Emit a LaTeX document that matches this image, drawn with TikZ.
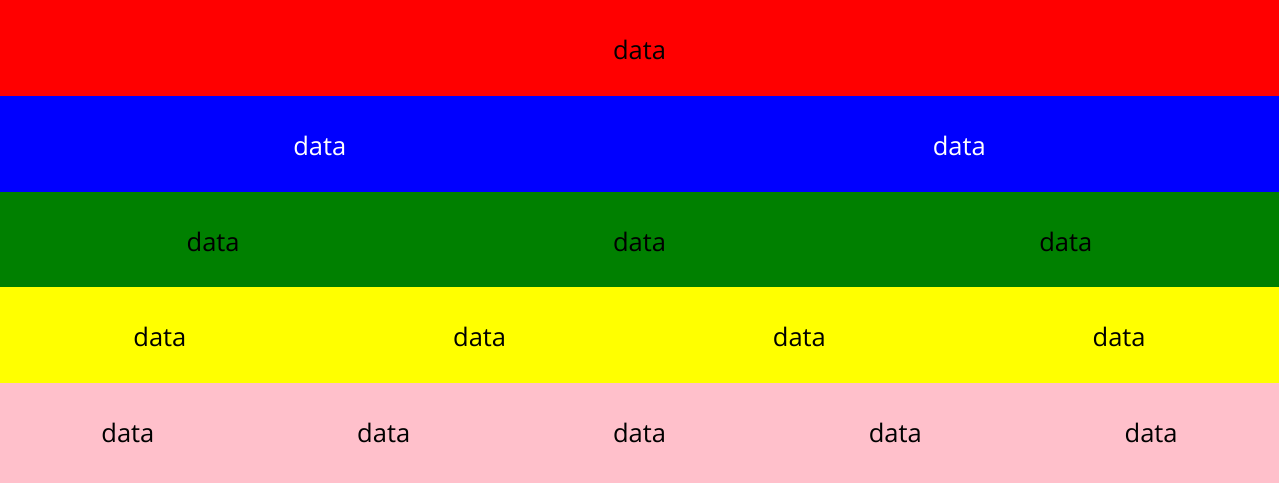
\documentclass[tikz,border=0pt]{standalone}
\usepackage{fontspec}
\setmainfont{Open Sans}
\definecolor{cssred}{HTML}{FF0000}
\definecolor{cssblue}{HTML}{0000FF}
\definecolor{cssgreen}{HTML}{008000}
\definecolor{cssyellow}{HTML}{FFFF00}
\definecolor{csspink}{HTML}{FFC0CB}
\begin{document}
\begin{tikzpicture}[x=1pt,y=1pt,
  band/.style={draw=none,inner sep=0pt,outer sep=0pt,minimum width=1279pt,anchor=north west},
  lbl/.style={inner sep=0pt,font=\fontsize{25.5}{30}\selectfont}]
\useasboundingbox (0,0) rectangle (1279,-483);
\foreach \i/\col/\tc/\n/\h in {0/cssred/black/1/96,1/cssblue/white/2/96,2/cssgreen/black/3/96,3/cssyellow/black/4/96,4/csspink/black/5/100}{
  \node[band,fill=\col,minimum height=\h pt] (row\n) at (0,-95.8*\i) {};
  \foreach \k in {1,...,\n}{
    \node[lbl,text=\tc] (t\n-\k) at ({1279*(2*\k-1)/(2*\n)},{-95.8*\i-50}) {data};
  }
}
\end{tikzpicture}
\end{document}
